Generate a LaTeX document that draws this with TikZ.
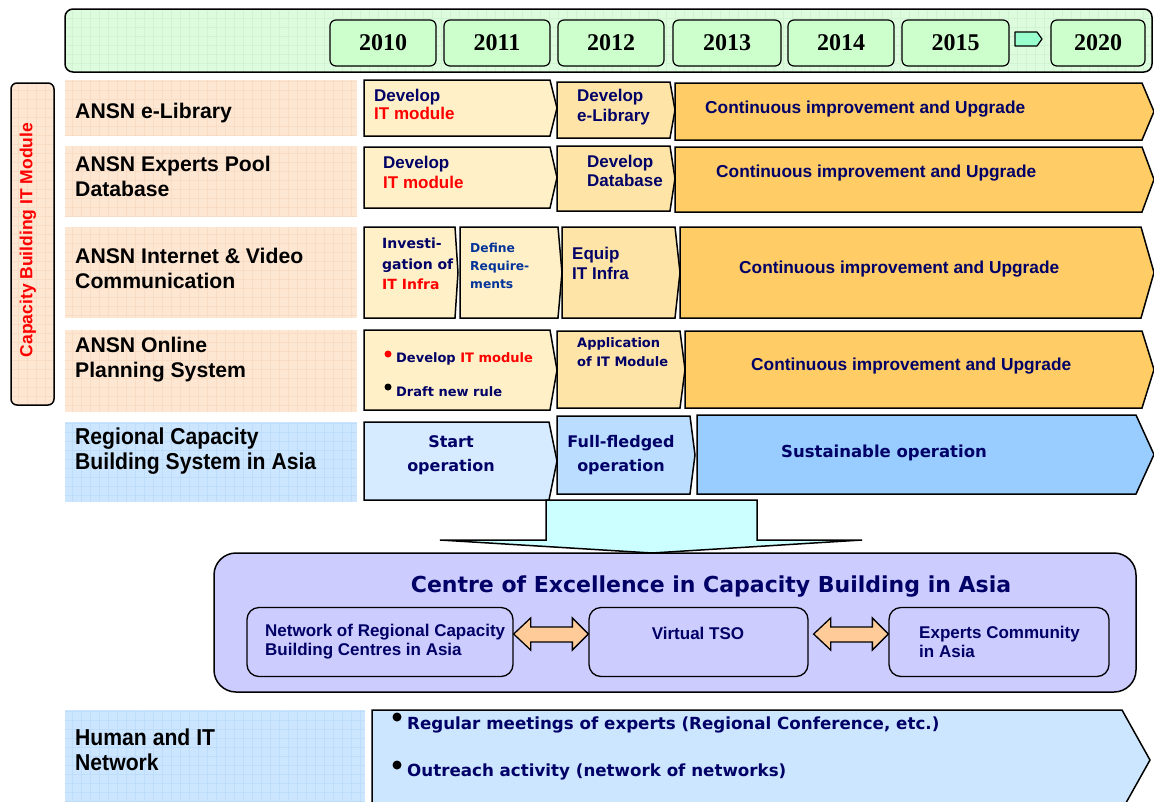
\documentclass[tikz,border=0pt]{standalone}
\usepackage{fontspec}
\setmainfont{Liberation Sans}
\newfontfamily\heavyf{DejaVu Sans}
\newfontfamily\narrowf{Liberation Sans}[FakeStretch=0.92]
\newfontfamily\timesf{Liberation Serif}
\usetikzlibrary{calc}
\definecolor{navy}{HTML}{000066}
\definecolor{defblue}{HTML}{003399}
\definecolor{peach}{HTML}{FDE6D2}
\definecolor{peachgrid}{HTML}{F9DCC4}
\definecolor{paleA}{HTML}{FFF0C8}
\definecolor{paleB}{HTML}{FFE4A8}
\definecolor{orng}{HTML}{FFCC66}
\definecolor{blueA}{HTML}{D6EBFF}
\definecolor{blueB}{HTML}{BBDDFF}
\definecolor{blueC}{HTML}{99CCFF}
\definecolor{labblue}{HTML}{CCE6FF}
\definecolor{bluegrid}{HTML}{BEDDFA}
\definecolor{barg}{HTML}{DDFCDD}
\definecolor{bargrid}{HTML}{D0F3D0}
\definecolor{yrg}{HTML}{CCFFCC}
\definecolor{arrg}{HTML}{99FFCC}
\definecolor{cyanl}{HTML}{CCFFFF}
\definecolor{lav}{HTML}{CCCCFF}
\definecolor{dblc}{HTML}{FFCC99}
\newcommand{\chev}[6]{\draw[#6] ({#1},{#2}) -- ({#3-#5},{#2}) -- ({#3},{(#2+#4)/2}) -- ({#3-#5},{#4}) -- ({#1},{#4}) -- cycle;}
\newcommand{\gridbox}[6]{\fill[#5] (#1,#2) rectangle (#3,#4); \begin{scope} \clip (#1,#2) rectangle (#3,#4); \draw[#6, line width=0.4pt, step=9pt] (#1,#2) grid (#3,#4); \end{scope}}
\begin{document}
\begin{tikzpicture}[x=1pt,y=-1pt,
  lab/.style={anchor=west, align=left, inner sep=0pt, font=\bfseries\fontsize{21.2}{25}\selectfont},
  nlab/.style={anchor=west, align=left, inner sep=0pt, font=\narrowf\bfseries\fontsize{23}{25}\selectfont},
  yr/.style={draw, line width=1.2pt, rounded corners=6pt, fill=yrg, minimum height=46pt, inner sep=0pt, font=\timesf\bfseries\fontsize{24}{26}\selectfont},
  bx/.style={draw=black, line width=1.5pt, line join=miter},
  tx/.style={anchor=west, align=left, inner sep=0pt, text=navy, font=\bfseries\fontsize{17}{19}\selectfont},
  hv/.style={anchor=west, align=left, inner sep=0pt, text=navy, font=\heavyf\bfseries\fontsize{13}{19}\selectfont},
  cont/.style={anchor=west, inner sep=0pt, text=navy, font=\bfseries\fontsize{17.3}{19}\selectfont},
  subbox/.style={draw, line width=1.3pt, rounded corners=12pt, fill=lav, minimum height=69pt, inner sep=0pt},
  subtx/.style={anchor=west, align=left, inner sep=0pt, text=navy, font=\bfseries\fontsize{17}{19}\selectfont},
  dbl/.style={draw, line width=1.3pt, fill=dblc, line join=miter}
]
\useasboundingbox (0,0) rectangle (1154,801);
\clip (0,0) rectangle (1154,801);

% top timeline bar
\begin{scope}
\clip[rounded corners=8pt] (65,9) rectangle (1152,72);
\gridbox{65}{9}{1152}{72}{barg}{bargrid}
\end{scope}
\draw[line width=1.5pt, rounded corners=8pt] (65,9) rectangle (1152,72);
\node[yr, minimum width=106pt] (y2010) at (383,43) {2010};
\node[yr, minimum width=106pt] (y2011) at (497,43) {2011};
\node[yr, minimum width=106pt] (y2012) at (611,43) {2012};
\node[yr, minimum width=108pt] (y2013) at (727,43) {2013};
\node[yr, minimum width=106pt] (y2014) at (841,43) {2014};
\node[yr, minimum width=107pt] (y2015) at (955.5,43) {2015};
\node[yr, minimum width=94pt] (y2020) at (1098,43) {2020};
\draw[line width=1.2pt, fill=arrg, line join=round] (1015,32) -- (1037,32) -- (1042,39) -- (1037,46) -- (1015,46) -- cycle;

% left vertical label
\begin{scope}
\clip[rounded corners=6pt] (11,83) rectangle (54,405);
\gridbox{11}{83}{54}{405}{peach}{peachgrid}
\end{scope}
\draw[line width=1.5pt, rounded corners=6pt] (11,83) rectangle (54,405);
\node[rotate=90, text=red, inner sep=0pt, font=\bfseries\fontsize{17.5}{19}\selectfont] (cbit) at (28,240) {Capacity Building IT Module};

% row label boxes
\gridbox{65}{80}{357}{136}{peach}{peachgrid}
\gridbox{65}{146}{357}{216}{peach}{peachgrid}
\gridbox{65}{227}{357}{318}{peach}{peachgrid}
\gridbox{65}{330}{357}{412}{peach}{peachgrid}
\gridbox{65}{422}{357}{502}{labblue}{bluegrid}
\gridbox{65}{710}{365}{801}{labblue}{bluegrid}
\node[lab] (l1) at (75,113) {ANSN e-Library};
\node[lab] (l2) at (75,176) {ANSN Experts Pool\\Database};
\node[lab] (l3) at (75,268) {ANSN Internet \& Video\\Communication};
\node[lab] (l4) at (75,360) {ANSN Online\\Planning System};
\node[nlab] (l5) at (75,451.5) {Regional Capacity\\Building System in Asia};
\node[nlab] (l6) at (75,750) {Human and IT\\Network};

% row 1
\chev{364}{80}{557}{136}{7}{bx, fill=paleA}
\chev{557}{82}{675}{138}{5}{bx, fill=paleB}
\chev{675}{83}{1154}{140}{12}{bx, fill=orng}
\node[tx, font=\bfseries\fontsize{17}{18}\selectfont] (t1a) at (374,104) {Develop\\\textcolor{red}{IT module}};
\node[tx, font=\bfseries\fontsize{17}{20}\selectfont] (t1b) at (577,107) {Develop\\e-Library};
\node[cont] (t1c) at (705,109) {Continuous improvement and Upgrade};

% row 2
\chev{364}{147}{557}{208}{7}{bx, fill=paleA}
\chev{557}{146}{675}{211}{5}{bx, fill=paleB}
\chev{675}{147}{1154}{212}{12}{bx, fill=orng}
\node[tx, font=\bfseries\fontsize{17}{20}\selectfont] (t2a) at (383,172) {Develop\\\textcolor{red}{IT module}};
\node[tx, font=\bfseries\fontsize{17}{19}\selectfont] (t2b) at (587,171) {Develop\\Database};
\node[cont] (t2c) at (716,173) {Continuous improvement and Upgrade};

% row 3
\chev{364}{227}{458}{318}{3}{bx, fill=paleA}
\chev{460}{227}{562}{318}{4}{bx, fill=paleA}
\chev{562}{227}{680}{318}{5}{bx, fill=paleB}
\chev{680}{227}{1154}{318}{13}{bx, fill=orng}
\node[hv, font=\heavyf\bfseries\fontsize{14}{20.5}\selectfont] (t3a) at (382,264) {Investi-\\gation of\\\textcolor{red}{IT Infra}};
\node[hv, text=defblue, font=\heavyf\bfseries\fontsize{12.3}{18}\selectfont] (t3b) at (470,266) {Define\\Require-\\ments};
\node[tx, font=\bfseries\fontsize{17}{20}\selectfont] (t3c) at (572,263) {Equip\\IT Infra};
\node[cont] (t3d) at (739,269) {Continuous improvement and Upgrade};

% row 4
\chev{364}{330}{557}{410}{7}{bx, fill=paleA}
\chev{557}{331}{685}{408}{5}{bx, fill=paleB}
\chev{685}{331}{1154}{408}{12}{bx, fill=orng}
\fill[red] (388,354) circle (3.5);
\fill[black] (388,387) circle (3.5);
\node[hv] (t4a) at (396,359) {Develop \textcolor{red}{IT module}};
\node[hv] (t4b) at (396,392) {Draft new rule};
\node[hv, font=\heavyf\bfseries\fontsize{13}{19}\selectfont] (t4c) at (577,352) {Application\\of IT Module};
\node[cont] (t4d) at (751,366) {Continuous improvement and Upgrade};

% row 5
\chev{364}{422}{557}{500}{8}{bx, fill=blueA}
\chev{557}{416}{695}{494}{5}{bx, fill=blueB}
\chev{697}{415}{1154}{494}{18}{bx, fill=blueC}
\node[align=center, inner sep=0pt, text=navy, font=\heavyf\bfseries\fontsize{16}{24}\selectfont] (t5a) at (451,455) {Start\\operation};
\node[align=center, inner sep=0pt, text=navy, font=\heavyf\bfseries\fontsize{16}{24}\selectfont] (t5b) at (621,455) {Full-fledged\\operation};
\node[inner sep=0pt, text=navy, font=\heavyf\bfseries\fontsize{16.5}{20}\selectfont] (t5c) at (884,453) {Sustainable operation};

% big down arrow
\draw[bx, fill=cyanl] (546,500) -- (757,500) -- (757,540) -- (862,540) -- (652,553) -- (440,540) -- (546,540) -- cycle;

% centre of excellence
\draw[line width=1.5pt, rounded corners=22pt, fill=lav] (214,553) rectangle (1136,692);
\node[inner sep=0pt, text=navy, font=\heavyf\bfseries\fontsize{22}{24}\selectfont] (coe) at (711,587) {Centre of Excellence in Capacity Building in Asia};
\node[subbox, minimum width=266pt] (n1) at (380,642) {};
\node[subbox, minimum width=219pt] (n2) at (698.5,642) {};
\node[subbox, minimum width=220pt] (n3) at (999,642) {};
\node[subtx] (n1t) at (265,642) {Network of Regional Capacity\\Building Centres in Asia};
\node[subtx, anchor=center] (n2t) at (698,633) {Virtual TSO};
\node[subtx] (n3t) at (919,642) {Experts Community\\in Asia};
\coordinate (a1) at ($(n1.east)+(0,-8)$);
\coordinate (a2) at ($(n2.west)+(0,-8)$);
\coordinate (b1) at ($(n2.east)+(5,-8)$);
\coordinate (b2) at ($(n3.west)+(0,-8)$);
\draw[dbl] (a1) -- ++(17,-16) -- ++(0,9) -- ($(a2)+(-16,-7)$) -- ++(0,-9) -- (a2) -- ++(-16,16) -- ++(0,-8) -- ($(a1)+(17,8)$) -- ++(0,8) -- cycle;
\draw[dbl] (b1) -- ++(17,-16) -- ++(0,9) -- ($(b2)+(-16,-7)$) -- ++(0,-9) -- (b2) -- ++(-16,16) -- ++(0,-8) -- ($(b1)+(17,8)$) -- ++(0,8) -- cycle;

% row 6
\chev{372}{710}{1150}{810}{28}{bx, fill=labblue}
\fill[black] (397,717) circle (4.5);
\fill[black] (397,765) circle (4.5);
\node[hv, font=\heavyf\bfseries\fontsize{16.7}{19}\selectfont] (t6a) at (407,725) {Regular meetings of experts (Regional Conference, etc.)};
\node[hv, font=\heavyf\bfseries\fontsize{16.7}{19}\selectfont] (t6b) at (407,772) {Outreach activity (network of networks)};
\end{tikzpicture}
\end{document}
